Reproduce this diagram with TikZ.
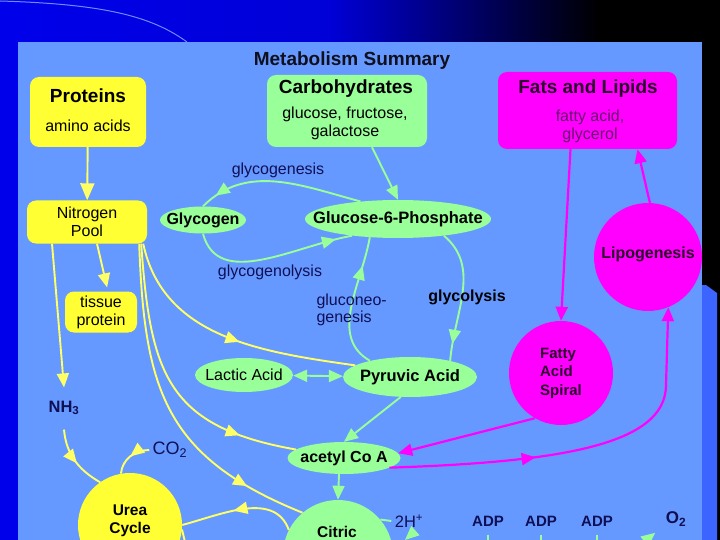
\documentclass[tikz,border=0pt]{standalone}
\usepackage{fontspec}
\setmainfont{Liberation Sans}
\usetikzlibrary{shapes.geometric,arrows.meta,decorations.markings}

\definecolor{slideblue}{RGB}{0,0,235}
\definecolor{bandblue}{RGB}{0,0,215}
\definecolor{panelblue}{RGB}{102,153,255}
\definecolor{stripblue}{RGB}{60,100,255}
\definecolor{streakblue}{RGB}{110,140,255}
\definecolor{protyellow}{RGB}{255,255,51}
\definecolor{lineyellow}{RGB}{255,255,102}
\definecolor{carbgreen}{RGB}{153,255,153}
\definecolor{fatpink}{RGB}{255,0,255}
\definecolor{fatdark}{RGB}{45,0,45}
\definecolor{fatsub}{RGB}{105,20,110}
\definecolor{labelnavy}{RGB}{15,15,85}
\definecolor{inkdark}{RGB}{15,15,30}

\begin{document}
\begin{tikzpicture}[x=1pt,y=-1pt,
  tri/.tip={Triangle[length=14pt,width=12pt]},
  bigtri/.tip={Triangle[length=17pt,width=14pt]},
  ttltxt/.style={font=\bfseries\fontsize{19}{24}\selectfont,text=inkdark},
  headtxt/.style={font=\bfseries\fontsize{19}{22}\selectfont},
  subtxt/.style={font=\fontsize{16}{18}\selectfont},
  lbltxt/.style={font=\fontsize{16}{17}\selectfont,text=labelnavy},
  boldtxt/.style={font=\bfseries\fontsize{16}{18}\selectfont},
  srcbox/.style={rectangle,rounded corners=9pt,inner sep=0pt},
  oval/.style={ellipse,fill=carbgreen,inner sep=0pt},
  blob/.style={circle,inner sep=0pt},
  yline/.style={draw=lineyellow,line width=1.9pt},
  gline/.style={draw=carbgreen,line width=1.9pt},
  mline/.style={draw=fatpink,line width=2.2pt},
  midtip/.style={postaction={decorate},
    decoration={markings,mark=at position #1 with {\arrow{tri}}}}]
  \clip (0,0) rectangle (720,540);
  % slide background: blue frame, dark gradient band, light panel
  \fill[slideblue] (0,0) rectangle (720,540);
  \shade[left color=slideblue,right color=bandblue] (0,0) rectangle (330,42);
  \shade[left color=bandblue,right color=black] (330,0) rectangle (600,42);
  \fill[black] (600,0) rectangle (720,42);
  \draw[streakblue,line width=1pt] (0,1) .. controls (100,4) and (150,15) .. (187,42);
  \fill[panelblue] (18,42) rectangle (702,540);

  \node[ttltxt] (ttl) at (352,61) {Metabolism Summary};

  % food groups
  \node[srcbox,fill=protyellow,minimum width=116pt,minimum height=70pt] (prot) at (88,112) {};
  \node[headtxt] (protH) at (88,96) {Proteins};
  \node[subtxt] (protS) at (88,126) {amino acids};
  \node[srcbox,fill=carbgreen,minimum width=160pt,minimum height=72pt] (carb) at (347,111) {};
  \node[headtxt] (carbH) at (346,89) {Carbohydrates};
  \node[subtxt,align=center] (carbS) at (345,123) {glucose, fructose,\\galactose};
  \node[srcbox,fill=fatpink,minimum width=179pt,minimum height=77pt] (fats) at (587.5,110.5) {};
  \node[headtxt,text=fatdark] (fatsH) at (588,89) {Fats and Lipids};
  \node[subtxt,text=fatsub,align=center] (fatsS) at (590,126) {fatty acid,\\glycerol};

  \node[srcbox,fill=protyellow,minimum width=120pt,minimum height=43pt,subtxt,align=center] (npool) at (87,222) {Nitrogen\\Pool};
  \node[srcbox,fill=protyellow,minimum width=72pt,minimum height=41pt,subtxt,align=center] (tissue) at (101,312) {tissue\\protein};

  % intermediates
  \node[oval,minimum width=86pt,minimum height=27pt,label={[boldtxt]center:Glycogen}] (glycogen) at (203,220) {};
  \node[oval,minimum width=186pt,minimum height=38pt,label={[boldtxt,font=\bfseries\fontsize{16.5}{18}\selectfont]center:Glucose-6-Phosphate}] (g6p) at (398,219) {};
  \node[oval,minimum width=98pt,minimum height=34pt,label={[subtxt]center:Lactic Acid}] (lactic) at (244,375) {};
  \node[oval,minimum width=134pt,minimum height=40pt,label={[boldtxt,font=\bfseries\fontsize{16.5}{18}\selectfont]center:Pyruvic Acid}] (pyr) at (410,377) {};
  \node[oval,minimum width=113pt,minimum height=32pt,label={[boldtxt]center:acetyl Co A}] (acetyl) at (344,458) {};

  \node[blob,fill=fatpink,minimum size=108pt,label={[boldtxt,text=fatdark,yshift=3pt]center:Lipogenesis}] (lipo) at (648,257) {};
  \node[blob,fill=fatpink,minimum size=104pt,label={[boldtxt,text=fatdark,align=left,font=\bfseries\fontsize{15}{18.5}\selectfont]center:{Fatty\\Acid\\Spiral}}] (spiral) at (561,373) {};
  % texts at the bottom edge raised a little so they are not cut off
  \node[blob,fill=protyellow,minimum size=104pt,label={[boldtxt,align=center,yshift=4pt,font=\bfseries\fontsize{15.5}{18}\selectfont]center:{Urea\\Cycle}}] (urea) at (130,525) {};
  \node[blob,fill=carbgreen,minimum size=110pt] (citric) at (338,555) {};
  \node[boldtxt,font=\bfseries\fontsize{15.5}{18}\selectfont] (citricT) at (337,532) {Citric};

  % small molecules
  \node[boldtxt,font=\bfseries\fontsize{16.5}{18}\selectfont,text=labelnavy] (nh3) at (64,408) {NH\textsubscript{3}};
  \node[lbltxt,font=\fontsize{18}{20}\selectfont] (co2) at (170,450) {CO\textsubscript{2}};
  \node[lbltxt,font=\fontsize{16.5}{18}\selectfont] (h2) at (409,521) {2H\textsuperscript{+}};
  \node[boldtxt,font=\bfseries\fontsize{15}{18}\selectfont,text=labelnavy] (adp1) at (488,521) {ADP};
  \node[boldtxt,font=\bfseries\fontsize{15}{18}\selectfont,text=labelnavy] (adp2) at (541,521) {ADP};
  \node[boldtxt,font=\bfseries\fontsize{15}{18}\selectfont,text=labelnavy] (adp3) at (597,521) {ADP};
  \node[boldtxt,font=\bfseries\fontsize{17}{18}\selectfont,text=labelnavy] (o2) at (676,519) {O\textsubscript{2}};
  \coordinate (foot) at (0,546);
  \coordinate (h2arr) at (405,540);
  \coordinate (o2foot) at (636,548);
  \coordinate (ureaBot) at (186,546);

  % nitrogen branch
  \draw[yline,-{bigtri}] (prot) -- (npool);
  \draw[yline,-{tri}] ([xshift=-35pt]npool.south) -- ([yshift=10pt]nh3.north);
  \draw[yline,-{tri},shorten >=4pt] ([xshift=10pt]npool.south) -- ([xshift=7pt]tissue.north);
  \draw[yline,midtip=0.55] ([xshift=-4pt]npool.south east) to[out=-78,in=172] (pyr.168);
  \draw[yline,midtip=0.8] ([xshift=-6pt]npool.south east) to[out=-86,in=170,looseness=1.3] (acetyl.170);
  \draw[yline,midtip=0.82] ([xshift=-8pt]npool.south east) to[out=-88,in=158,looseness=1.2] (citric.130);
  \draw[yline,midtip=0.55] ([yshift=-11pt]nh3.south) to[out=-85,in=150] (urea.125);
  \draw[yline,midtip=0.5] (co2.west) to[out=180,in=85] (urea.100);
  \draw[yline,midtip=0.55] (citric.153) to[out=110,in=15] (urea.0);
  \draw[yline] (urea.-5) -- (ureaBot);

  % carbohydrate branch
  \draw[gline,-{tri}] ([xshift=25pt]carb.south) -- (g6p.north);
  \draw[gline,midtip=0.9] (g6p.155) to[out=165,in=45] (glycogen.north);
  \draw[gline,midtip=0.9] (glycogen.south) to[out=-75,in=190] (g6p.200);
  \draw[gline,midtip=0.87] (g6p.-20) to[out=-40,in=85] (pyr.22);
  \draw[gline,midtip=0.78] (pyr.158) to[out=150,in=-100] (g6p.213);
  \draw[gline,{tri}-{tri}] (lactic) -- (pyr);
  \draw[gline,-{tri}] (pyr.245) -- (acetyl.north);
  \draw[gline,-{tri}] ([xshift=-5pt]acetyl.south) -- (citric.north);
  \draw[gline] (citric.40) -- (h2.west);
  \draw[gline,-{tri}] ([xshift=6pt]h2.south) -- (h2arr);
  \draw[gline] ([yshift=-5pt]adp1.south) -- (adp1.south |- foot);
  \draw[gline] ([yshift=-5pt]adp2.south) -- (adp2.south |- foot);
  \draw[gline] ([yshift=-5pt]adp3.south) -- (adp3.south |- foot);
  \draw[gline,-{tri}] (o2foot) -- ([xshift=-7pt,yshift=-3pt]o2.south west);

  % fat branch
  \draw[mline,-{tri}] ([xshift=-17pt]fats.south) -- (spiral.north);
  \draw[mline,-{tri}] (lipo.88) -- ([xshift=50pt]fats.south);
  \draw[mline,-{tri}] (spiral.240) -- (acetyl.5);
  \draw[mline,midtip=0.38,-{tri}] (acetyl.-12) .. controls (560,462) and (666,445) .. (666,385) -- (lipo.-68);

  % process names, set after the arrows so they sit on top of them
  \node[lbltxt] (glycogenesis) at (278,170) {glycogenesis};
  \node[lbltxt] (glycogenolysis) at (270,272) {glycogenolysis};
  \node[lbltxt,align=left,anchor=west] (gluconeo) at (313,310) {gluconeo-\\genesis};
  \node[boldtxt,text=black] (glycolysis) at (467,297) {glycolysis};

  % right edge of the slide, drawn last so it trims the Lipogenesis disc
  \fill[black] (702,0) rectangle (720,540);
  \fill[stripblue] (702,285) -- (706,285) -- (717,293) -- (717,540) -- (702,540) -- cycle;
\end{tikzpicture}
\end{document}
